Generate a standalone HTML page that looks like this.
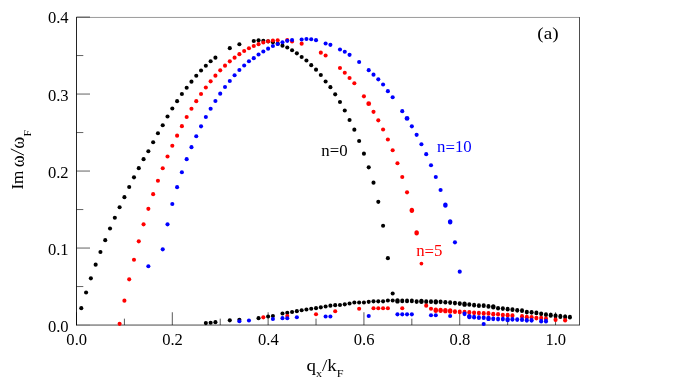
<!DOCTYPE html>
<html><head><meta charset="utf-8"><title>plot</title>
<style>html,body{margin:0;padding:0;background:#fff}body{width:692px;height:388px;position:relative;overflow:hidden;font-family:"Liberation Serif",serif}</style></head>
<body>
<svg width="692" height="388" viewBox="0 0 692 388" style="position:absolute;left:0;top:0;will-change:transform">
<g stroke="#000" fill="none">
<line x1="76.5" y1="17.45" x2="579.5" y2="17.45" stroke-width="0.4"/>
<line x1="579.5" y1="17.15" x2="579.5" y2="325.35" stroke-width="0.7"/>
<line x1="76.5" y1="325.05" x2="579.5" y2="325.05" stroke-width="0.72"/>
<line x1="76.5" y1="17.05" x2="76.5" y2="325.45" stroke-width="0.86"/>
<line x1="76.5" y1="325.05" x2="90.0" y2="325.05" stroke-width="0.2"/>
<line x1="76.5" y1="286.55" x2="83.3" y2="286.55" stroke-width="0.62"/>
<line x1="76.5" y1="248.05" x2="90.0" y2="248.05" stroke-width="0.62"/>
<line x1="76.5" y1="209.55" x2="83.3" y2="209.55" stroke-width="0.62"/>
<line x1="76.5" y1="171.05" x2="90.0" y2="171.05" stroke-width="0.62"/>
<line x1="76.5" y1="132.55" x2="83.3" y2="132.55" stroke-width="0.62"/>
<line x1="76.5" y1="94.05" x2="90.0" y2="94.05" stroke-width="0.62"/>
<line x1="76.5" y1="55.55" x2="83.3" y2="55.55" stroke-width="0.62"/>
<line x1="76.5" y1="17.05" x2="90.0" y2="17.05" stroke-width="0.62"/>
<line x1="76.50" y1="325.05" x2="76.50" y2="312.25" stroke-width="0.66"/>
<line x1="124.41" y1="325.05" x2="124.41" y2="318.65000000000003" stroke-width="0.66"/>
<line x1="172.31" y1="325.05" x2="172.31" y2="312.25" stroke-width="0.66"/>
<line x1="220.22" y1="325.05" x2="220.22" y2="318.65000000000003" stroke-width="0.66"/>
<line x1="268.12" y1="325.05" x2="268.12" y2="312.25" stroke-width="0.66"/>
<line x1="316.03" y1="325.05" x2="316.03" y2="318.65000000000003" stroke-width="0.66"/>
<line x1="363.93" y1="325.05" x2="363.93" y2="312.25" stroke-width="0.66"/>
<line x1="411.84" y1="325.05" x2="411.84" y2="318.65000000000003" stroke-width="0.66"/>
<line x1="459.74" y1="325.05" x2="459.74" y2="312.25" stroke-width="0.66"/>
<line x1="507.65" y1="325.05" x2="507.65" y2="318.65000000000003" stroke-width="0.66"/>
<line x1="555.55" y1="325.05" x2="555.55" y2="312.25" stroke-width="0.66"/>
</g>
<g fill="#000"><circle cx="81.29" cy="308.15" r="2.05"/><circle cx="86.08" cy="292.55" r="2.05"/><circle cx="90.87" cy="278.35" r="2.05"/><circle cx="95.66" cy="264.65" r="2.05"/><circle cx="100.45" cy="251.95" r="2.05"/><circle cx="105.24" cy="240.15" r="2.05"/><circle cx="110.03" cy="228.55" r="2.05"/><circle cx="114.82" cy="217.75" r="2.05"/><circle cx="119.61" cy="207.25" r="2.05"/><circle cx="124.41" cy="197.15" r="2.05"/><circle cx="129.20" cy="187.05" r="2.05"/><circle cx="133.99" cy="177.35" r="2.05"/><circle cx="138.78" cy="168.15" r="2.05"/><circle cx="143.57" cy="159.15" r="2.05"/><circle cx="148.36" cy="151.25" r="2.05"/><circle cx="153.15" cy="142.25" r="2.05"/><circle cx="157.94" cy="133.25" r="2.05"/><circle cx="162.73" cy="125.25" r="2.05"/><circle cx="167.52" cy="116.55" r="2.05"/><circle cx="172.31" cy="108.55" r="2.05"/><circle cx="177.10" cy="101.15" r="2.05"/><circle cx="181.89" cy="94.05" r="2.05"/><circle cx="186.68" cy="87.75" r="2.05"/><circle cx="191.47" cy="81.65" r="2.05"/><circle cx="196.26" cy="75.75" r="2.05"/><circle cx="201.05" cy="70.55" r="2.05"/><circle cx="205.84" cy="65.75" r="2.05"/><circle cx="210.63" cy="61.25" r="2.05"/><circle cx="215.42" cy="57.65" r="2.05"/><circle cx="229.80" cy="48.15" r="2.05"/><circle cx="239.38" cy="44.25" r="2.05"/><circle cx="253.75" cy="40.95" r="2.05"/><circle cx="258.54" cy="40.35" r="2.05"/><circle cx="263.33" cy="40.75" r="2.05"/><circle cx="268.12" cy="41.35" r="2.05"/><circle cx="272.91" cy="42.15" r="2.05"/><circle cx="277.70" cy="43.75" r="2.05"/><circle cx="282.49" cy="45.65" r="2.05"/><circle cx="287.28" cy="47.45" r="2.05"/><circle cx="292.07" cy="50.25" r="2.05"/><circle cx="296.86" cy="53.35" r="2.05"/><circle cx="301.65" cy="56.95" r="2.05"/><circle cx="306.44" cy="60.45" r="2.05"/><circle cx="311.23" cy="65.15" r="2.05"/><circle cx="316.03" cy="69.65" r="2.05"/><circle cx="320.82" cy="74.95" r="2.05"/><circle cx="325.61" cy="81.45" r="2.05"/><circle cx="330.40" cy="87.15" r="2.05"/><circle cx="335.19" cy="94.35" r="2.05"/><circle cx="339.98" cy="101.95" r="2.05"/><circle cx="344.77" cy="110.45" r="2.05"/><circle cx="349.56" cy="119.95" r="2.05"/><circle cx="354.35" cy="129.65" r="2.05"/><circle cx="359.14" cy="140.95" r="2.05"/><circle cx="363.93" cy="153.65" r="2.05"/><circle cx="368.72" cy="167.35" r="2.05"/><circle cx="373.51" cy="182.65" r="2.05"/><circle cx="378.30" cy="201.85" r="2.05"/><circle cx="383.09" cy="225.75" r="2.05"/><circle cx="387.88" cy="258.15" r="2.05"/><circle cx="392.67" cy="293.45" r="2.05"/></g>

<g fill="#000"><circle cx="205.84" cy="323.10" r="2.05"/><circle cx="210.63" cy="322.70" r="2.05"/><circle cx="215.42" cy="322.15" r="2.05"/><circle cx="229.80" cy="320.35" r="2.05"/><circle cx="239.38" cy="319.75" r="2.05"/><circle cx="258.54" cy="318.15" r="2.05"/><circle cx="268.12" cy="316.45" r="2.05"/><circle cx="272.91" cy="315.95" r="2.05"/><circle cx="282.49" cy="313.45" r="2.05"/><circle cx="287.28" cy="312.85" r="2.05"/><circle cx="292.07" cy="311.95" r="2.05"/><circle cx="296.86" cy="311.15" r="2.05"/><circle cx="301.65" cy="310.25" r="2.05"/><circle cx="306.44" cy="309.45" r="2.05"/><circle cx="311.23" cy="308.75" r="2.05"/><circle cx="316.03" cy="308.15" r="2.05"/><circle cx="320.82" cy="307.35" r="2.05"/><circle cx="325.61" cy="306.45" r="2.05"/><circle cx="330.40" cy="305.65" r="2.05"/><circle cx="335.19" cy="305.15" r="2.05"/><circle cx="339.98" cy="305.05" r="2.05"/><circle cx="344.77" cy="304.35" r="2.05"/><circle cx="349.56" cy="303.45" r="2.05"/><circle cx="354.35" cy="302.55" r="2.05"/><circle cx="359.14" cy="302.45" r="2.05"/><circle cx="363.93" cy="302.55" r="2.05"/><circle cx="368.72" cy="301.85" r="2.05"/><circle cx="373.51" cy="301.35" r="2.05"/><circle cx="378.30" cy="301.35" r="2.05"/><circle cx="383.09" cy="301.35" r="2.05"/><circle cx="387.88" cy="300.55" r="2.05"/><circle cx="392.67" cy="300.55" r="2.05"/><ellipse cx="397.46" cy="300.95" rx="2.25" ry="2.65"/><ellipse cx="402.25" cy="300.95" rx="2.05" ry="2.35"/><ellipse cx="407.04" cy="300.95" rx="2.05" ry="2.35"/><ellipse cx="411.84" cy="300.95" rx="2.05" ry="2.35"/><ellipse cx="416.63" cy="301.55" rx="2.05" ry="2.35"/><ellipse cx="421.42" cy="301.35" rx="2.25" ry="2.65"/><ellipse cx="426.21" cy="301.65" rx="2.05" ry="2.35"/><ellipse cx="431.00" cy="301.65" rx="2.05" ry="2.35"/><ellipse cx="435.79" cy="301.85" rx="2.25" ry="2.65"/><ellipse cx="440.58" cy="301.85" rx="2.05" ry="2.35"/><ellipse cx="445.37" cy="302.25" rx="2.05" ry="2.35"/><ellipse cx="450.16" cy="302.55" rx="2.05" ry="2.35"/><ellipse cx="454.95" cy="303.05" rx="2.05" ry="2.35"/><ellipse cx="459.74" cy="303.55" rx="2.05" ry="2.35"/><ellipse cx="464.53" cy="304.15" rx="2.25" ry="2.65"/><ellipse cx="469.32" cy="304.50" rx="2.05" ry="2.35"/><ellipse cx="474.11" cy="305.15" rx="2.05" ry="2.35"/><ellipse cx="478.90" cy="305.65" rx="2.05" ry="2.35"/><ellipse cx="483.69" cy="305.65" rx="2.05" ry="2.35"/><ellipse cx="488.48" cy="306.45" rx="2.05" ry="2.35"/><ellipse cx="493.27" cy="306.85" rx="2.25" ry="2.65"/><ellipse cx="498.06" cy="308.25" rx="2.05" ry="2.35"/><ellipse cx="502.85" cy="308.55" rx="2.05" ry="2.35"/><ellipse cx="507.65" cy="309.15" rx="2.05" ry="2.35"/><ellipse cx="512.44" cy="309.70" rx="2.05" ry="2.35"/><ellipse cx="517.23" cy="310.35" rx="2.05" ry="2.35"/><ellipse cx="522.02" cy="310.70" rx="2.05" ry="2.35"/><ellipse cx="526.81" cy="312.10" rx="2.05" ry="2.35"/><ellipse cx="531.60" cy="312.35" rx="2.05" ry="2.35"/><ellipse cx="536.39" cy="312.95" rx="2.05" ry="2.35"/><ellipse cx="541.18" cy="313.80" rx="2.05" ry="2.35"/><ellipse cx="545.97" cy="314.65" rx="2.05" ry="2.35"/><ellipse cx="550.76" cy="315.15" rx="2.05" ry="2.60"/><ellipse cx="555.55" cy="315.85" rx="2.05" ry="2.60"/><ellipse cx="560.34" cy="316.45" rx="2.05" ry="2.60"/><ellipse cx="565.13" cy="316.85" rx="2.05" ry="2.60"/><ellipse cx="569.92" cy="317.15" rx="2.05" ry="2.35"/></g>

<g fill="#f00"><circle cx="119.61" cy="323.85" r="2.05"/><circle cx="124.41" cy="300.65" r="2.05"/><circle cx="129.20" cy="279.35" r="2.05"/><circle cx="133.99" cy="259.75" r="2.05"/><circle cx="138.78" cy="241.35" r="2.05"/><circle cx="143.57" cy="224.35" r="2.05"/><circle cx="148.36" cy="208.85" r="2.05"/><circle cx="153.15" cy="194.15" r="2.05"/><circle cx="157.94" cy="180.75" r="2.05"/><circle cx="162.73" cy="168.25" r="2.05"/><circle cx="167.52" cy="156.55" r="2.05"/><circle cx="172.31" cy="145.75" r="2.05"/><circle cx="177.10" cy="135.65" r="2.05"/><circle cx="181.89" cy="126.15" r="2.05"/><circle cx="186.68" cy="117.05" r="2.05"/><circle cx="191.47" cy="108.75" r="2.05"/><circle cx="196.26" cy="101.15" r="2.05"/><circle cx="201.05" cy="94.05" r="2.05"/><circle cx="205.84" cy="87.55" r="2.05"/><circle cx="210.63" cy="81.35" r="2.05"/><circle cx="215.42" cy="75.65" r="2.05"/><circle cx="220.22" cy="70.35" r="2.05"/><circle cx="225.01" cy="65.65" r="2.05"/><circle cx="229.80" cy="61.35" r="2.05"/><circle cx="234.59" cy="57.65" r="2.05"/><circle cx="239.38" cy="54.15" r="2.05"/><circle cx="244.17" cy="51.05" r="2.05"/><circle cx="248.96" cy="48.25" r="2.05"/><circle cx="253.75" cy="46.05" r="2.05"/><circle cx="258.54" cy="44.15" r="2.05"/><circle cx="263.33" cy="42.55" r="2.05"/><circle cx="268.12" cy="41.35" r="2.05"/><circle cx="272.91" cy="40.45" r="2.05"/><circle cx="277.70" cy="40.25" r="2.05"/><circle cx="287.28" cy="40.15" r="2.05"/><circle cx="292.07" cy="41.45" r="2.05"/><circle cx="301.65" cy="43.65" r="2.05"/><circle cx="320.82" cy="52.65" r="2.05"/><circle cx="325.61" cy="55.55" r="2.05"/><circle cx="339.98" cy="68.05" r="2.05"/><circle cx="344.77" cy="72.75" r="2.05"/><circle cx="349.56" cy="77.95" r="2.05"/><circle cx="354.35" cy="83.25" r="2.05"/><circle cx="363.93" cy="96.35" r="2.05"/><circle cx="368.72" cy="103.65" r="2.40"/><circle cx="373.51" cy="111.85" r="2.05"/><circle cx="378.30" cy="120.35" r="2.05"/><circle cx="383.09" cy="129.55" r="2.05"/><circle cx="387.88" cy="139.55" r="2.05"/><circle cx="392.67" cy="150.25" r="2.05"/><circle cx="397.46" cy="163.25" r="2.05"/><circle cx="402.25" cy="176.95" r="2.05"/><circle cx="407.04" cy="192.35" r="2.05"/><ellipse cx="411.84" cy="210.35" rx="2.25" ry="2.65"/><ellipse cx="416.63" cy="232.85" rx="2.25" ry="2.65"/><circle cx="421.42" cy="263.55" r="1.85"/></g>

<g fill="#f00"><circle cx="263.33" cy="317.35" r="2.05"/><circle cx="287.28" cy="315.95" r="2.05"/><circle cx="316.03" cy="314.25" r="2.05"/><circle cx="335.19" cy="311.25" r="2.05"/><circle cx="359.14" cy="308.75" r="2.05"/><circle cx="373.51" cy="308.25" r="2.05"/><circle cx="378.30" cy="308.25" r="2.05"/><circle cx="383.09" cy="308.25" r="2.05"/><circle cx="387.88" cy="308.25" r="2.05"/><circle cx="402.25" cy="308.25" r="2.05"/><circle cx="426.21" cy="305.65" r="2.05"/><circle cx="431.00" cy="308.75" r="2.05"/><ellipse cx="435.79" cy="310.25" rx="2.25" ry="2.65"/><ellipse cx="440.58" cy="310.35" rx="2.25" ry="2.65"/><ellipse cx="445.37" cy="310.65" rx="2.25" ry="2.65"/><ellipse cx="450.16" cy="311.00" rx="2.25" ry="2.65"/><ellipse cx="454.95" cy="311.65" rx="2.05" ry="2.35"/><ellipse cx="459.74" cy="311.95" rx="2.05" ry="2.35"/><ellipse cx="464.53" cy="312.15" rx="2.05" ry="2.35"/><ellipse cx="469.32" cy="312.45" rx="2.05" ry="2.35"/><ellipse cx="474.11" cy="312.85" rx="2.05" ry="2.35"/><ellipse cx="478.90" cy="313.05" rx="2.05" ry="2.35"/><ellipse cx="483.69" cy="313.45" rx="2.05" ry="2.35"/><ellipse cx="488.48" cy="313.45" rx="2.05" ry="2.35"/><ellipse cx="493.27" cy="314.15" rx="2.05" ry="2.35"/><ellipse cx="498.06" cy="314.25" rx="2.05" ry="2.35"/><ellipse cx="502.85" cy="315.05" rx="2.05" ry="2.35"/><ellipse cx="507.65" cy="315.15" rx="2.05" ry="2.35"/><ellipse cx="512.44" cy="315.65" rx="2.05" ry="2.35"/><ellipse cx="522.02" cy="316.45" rx="2.05" ry="2.35"/><ellipse cx="526.81" cy="317.15" rx="2.05" ry="2.35"/><ellipse cx="531.60" cy="317.30" rx="2.05" ry="2.35"/><ellipse cx="536.39" cy="318.10" rx="2.05" ry="2.35"/><ellipse cx="541.18" cy="318.05" rx="2.05" ry="2.35"/><ellipse cx="545.97" cy="318.80" rx="2.05" ry="2.35"/><ellipse cx="555.55" cy="319.75" rx="2.05" ry="2.35"/><ellipse cx="565.13" cy="320.25" rx="2.05" ry="2.35"/></g>

<g fill="#00f"><circle cx="148.36" cy="266.25" r="2.05"/><circle cx="162.73" cy="249.35" r="2.05"/><circle cx="167.52" cy="224.35" r="2.05"/><circle cx="172.31" cy="204.05" r="2.05"/><circle cx="177.10" cy="187.15" r="2.05"/><circle cx="181.89" cy="172.25" r="2.05"/><circle cx="186.68" cy="159.15" r="2.05"/><circle cx="191.47" cy="147.15" r="2.05"/><circle cx="196.26" cy="136.25" r="2.05"/><circle cx="201.05" cy="126.35" r="2.05"/><circle cx="205.84" cy="117.05" r="2.05"/><circle cx="210.63" cy="108.75" r="2.05"/><circle cx="215.42" cy="100.95" r="2.05"/><circle cx="220.22" cy="93.65" r="2.05"/><circle cx="225.01" cy="87.05" r="2.05"/><circle cx="229.80" cy="80.95" r="2.05"/><circle cx="234.59" cy="75.25" r="2.05"/><circle cx="239.38" cy="70.05" r="2.05"/><circle cx="244.17" cy="65.45" r="2.05"/><circle cx="248.96" cy="61.25" r="2.05"/><circle cx="253.75" cy="58.15" r="2.05"/><circle cx="258.54" cy="54.55" r="2.05"/><circle cx="263.33" cy="51.45" r="2.05"/><circle cx="268.12" cy="48.65" r="2.05"/><circle cx="272.91" cy="46.05" r="2.05"/><circle cx="277.70" cy="43.95" r="2.05"/><circle cx="282.49" cy="42.25" r="2.05"/><circle cx="287.28" cy="40.85" r="2.05"/><circle cx="292.07" cy="40.05" r="2.05"/><circle cx="301.65" cy="39.55" r="2.05"/><circle cx="306.44" cy="39.05" r="2.05"/><circle cx="311.23" cy="39.25" r="2.05"/><circle cx="316.03" cy="40.15" r="2.05"/><circle cx="325.61" cy="43.45" r="2.05"/><circle cx="330.40" cy="44.85" r="2.05"/><circle cx="339.98" cy="49.55" r="2.05"/><circle cx="344.77" cy="51.75" r="2.05"/><circle cx="349.56" cy="54.85" r="2.05"/><circle cx="359.14" cy="61.95" r="2.05"/><circle cx="368.72" cy="70.15" r="2.05"/><circle cx="373.51" cy="74.65" r="2.05"/><circle cx="378.30" cy="79.35" r="2.05"/><circle cx="383.09" cy="84.55" r="2.05"/><circle cx="387.88" cy="91.15" r="2.05"/><circle cx="392.67" cy="97.25" r="2.05"/><circle cx="402.25" cy="111.15" r="2.05"/><circle cx="407.04" cy="118.45" r="2.40"/><circle cx="411.84" cy="126.35" r="2.05"/><circle cx="416.63" cy="134.85" r="2.05"/><circle cx="421.42" cy="144.25" r="2.05"/><circle cx="426.21" cy="154.15" r="2.05"/><circle cx="431.00" cy="165.25" r="2.05"/><circle cx="435.79" cy="176.95" r="2.05"/><circle cx="440.58" cy="189.95" r="2.05"/><ellipse cx="445.37" cy="205.05" rx="2.25" ry="2.65"/><ellipse cx="450.16" cy="221.85" rx="2.25" ry="2.65"/><circle cx="454.95" cy="242.35" r="2.05"/><circle cx="459.74" cy="271.65" r="2.05"/></g>

<g fill="#00f"><circle cx="239.38" cy="321.25" r="2.05"/><circle cx="248.96" cy="320.45" r="2.05"/><circle cx="272.91" cy="319.05" r="2.05"/><circle cx="282.49" cy="318.15" r="2.05"/><circle cx="287.28" cy="318.20" r="2.05"/><circle cx="296.86" cy="317.25" r="2.05"/><circle cx="325.61" cy="316.55" r="2.05"/><circle cx="330.40" cy="316.55" r="2.05"/><circle cx="368.72" cy="316.00" r="2.05"/><circle cx="397.46" cy="314.35" r="2.05"/><circle cx="402.25" cy="314.35" r="2.05"/><circle cx="407.04" cy="314.35" r="2.05"/><circle cx="411.84" cy="314.35" r="2.05"/><circle cx="431.00" cy="315.25" r="2.05"/><circle cx="435.79" cy="315.25" r="2.05"/><circle cx="450.16" cy="316.05" r="2.05"/><ellipse cx="464.53" cy="313.85" rx="2.05" ry="2.35"/><ellipse cx="469.32" cy="316.55" rx="2.25" ry="2.65"/><ellipse cx="474.11" cy="317.15" rx="2.05" ry="2.35"/><ellipse cx="478.90" cy="317.65" rx="2.05" ry="2.35"/><ellipse cx="483.69" cy="317.75" rx="2.05" ry="2.35"/><ellipse cx="488.48" cy="318.45" rx="2.25" ry="2.65"/><ellipse cx="493.27" cy="318.80" rx="2.05" ry="2.35"/><ellipse cx="498.06" cy="319.05" rx="2.05" ry="2.35"/><ellipse cx="502.85" cy="319.05" rx="2.05" ry="2.35"/><ellipse cx="507.65" cy="319.55" rx="2.25" ry="2.65"/><ellipse cx="512.44" cy="319.35" rx="2.05" ry="2.35"/><ellipse cx="517.23" cy="319.55" rx="2.05" ry="2.35"/><ellipse cx="522.02" cy="319.70" rx="2.05" ry="2.35"/><ellipse cx="526.81" cy="320.30" rx="2.05" ry="2.35"/><ellipse cx="531.60" cy="320.30" rx="2.05" ry="2.35"/><ellipse cx="541.18" cy="321.15" rx="2.05" ry="2.35"/><ellipse cx="545.97" cy="321.15" rx="2.05" ry="2.35"/></g>

<g fill="#00f"><circle cx="483.69" cy="324.0" r="2.05"/></g>
<text font-family="Liberation Serif, serif" font-size="15.8" fill="#000" text-anchor="end" transform="translate(68.60,331.70) scale(1.05,1)" >0.0</text>
<text font-family="Liberation Serif, serif" font-size="15.8" fill="#000" text-anchor="end" transform="translate(68.60,254.70) scale(1.05,1)" >0.1</text>
<text font-family="Liberation Serif, serif" font-size="15.8" fill="#000" text-anchor="end" transform="translate(68.60,177.70) scale(1.05,1)" >0.2</text>
<text font-family="Liberation Serif, serif" font-size="15.8" fill="#000" text-anchor="end" transform="translate(68.60,100.70) scale(1.05,1)" >0.3</text>
<text font-family="Liberation Serif, serif" font-size="15.8" fill="#000" text-anchor="end" transform="translate(68.60,23.25) scale(1.05,1)" >0.4</text>
<text font-family="Liberation Serif, serif" font-size="15.8" fill="#000" text-anchor="middle" transform="translate(76.70,345.30) scale(1.05,1)" >0.0</text>
<text font-family="Liberation Serif, serif" font-size="15.8" fill="#000" text-anchor="middle" transform="translate(172.51,345.30) scale(1.05,1)" >0.2</text>
<text font-family="Liberation Serif, serif" font-size="15.8" fill="#000" text-anchor="middle" transform="translate(268.32,345.30) scale(1.05,1)" >0.4</text>
<text font-family="Liberation Serif, serif" font-size="15.8" fill="#000" text-anchor="middle" transform="translate(364.13,345.30) scale(1.05,1)" >0.6</text>
<text font-family="Liberation Serif, serif" font-size="15.8" fill="#000" text-anchor="middle" transform="translate(459.94,345.30) scale(1.05,1)" >0.8</text>
<text font-family="Liberation Serif, serif" font-size="15.8" fill="#000" text-anchor="middle" transform="translate(555.75,345.30) scale(1.05,1)" >1.0</text>
<text font-family="Liberation Serif, serif" font-size="17.3" fill="#000" text-anchor="start" transform="translate(537.30,39.00) scale(1.11,1)" >(a)</text>
<text font-family="Liberation Serif, serif" font-size="15.7" fill="#000" text-anchor="start" transform="translate(321.30,155.50) scale(1.07,1)" >n<tspan dy="0.8">=</tspan><tspan dy="-0.8">0</tspan></text>
<text font-family="Liberation Serif, serif" font-size="15.7" fill="#00f" text-anchor="start" transform="translate(437.10,151.90) scale(1.07,1)" >n<tspan dy="0.8">=</tspan><tspan dy="-0.8">10</tspan></text>
<text font-family="Liberation Serif, serif" font-size="15.7" fill="#f00" text-anchor="start" transform="translate(416.20,255.85) scale(1.07,1)" >n<tspan dy="0.8">=</tspan><tspan dy="-0.8">5</tspan></text>
<text font-family="Liberation Serif, serif" font-size="17.1" transform="translate(306.4,371.2) scale(1.11,1)">q<tspan font-size="11" dy="5.4">x</tspan><tspan dy="-5.4">/k</tspan><tspan font-size="11" dy="5.4">F</tspan></text>
<g transform="translate(23,189.6) rotate(-90)" font-family="Liberation Serif, serif" fill="#000">
<text font-size="17" transform="scale(1.01,1)">Im</text>
<text font-size="18" x="22.26" y="1.3" stroke="#000" stroke-width="0.05">ω</text>
<line x1="34.4" y1="1.0" x2="40.7" y2="-12.2" stroke="#000" stroke-width="0.95"/>
<text font-size="18" x="40.96" y="1.3" stroke="#000" stroke-width="0.05">ω</text>
<text font-size="10.5" transform="translate(53.2,8) scale(1.1,1)">F</text>
</g>
</svg>
</body></html>
